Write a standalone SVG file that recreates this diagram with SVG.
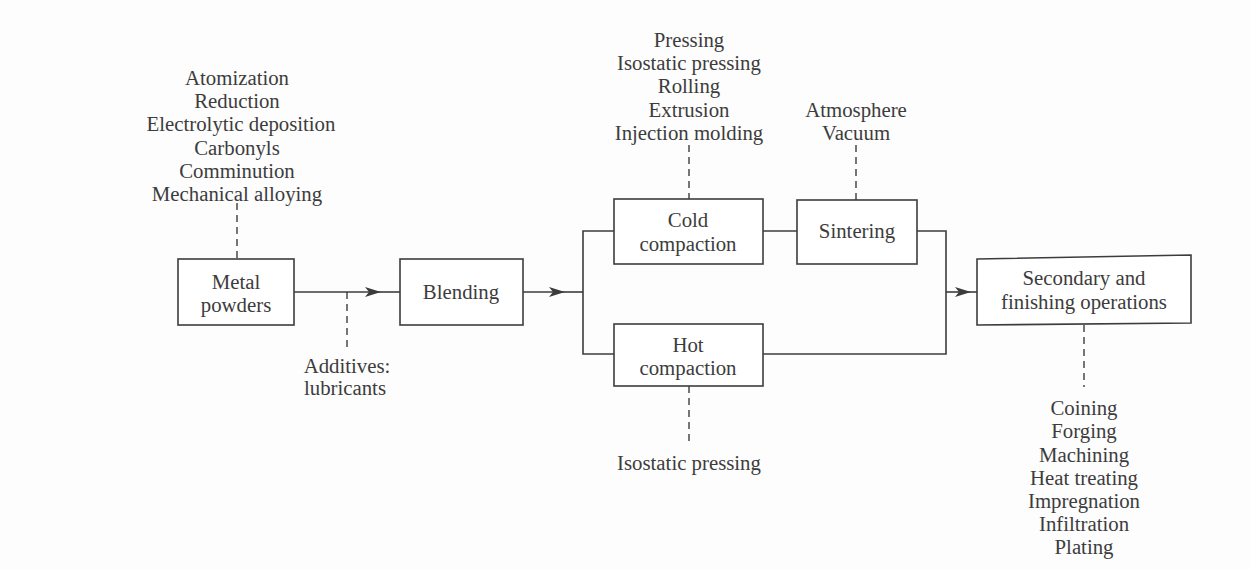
<svg xmlns="http://www.w3.org/2000/svg" width="1250" height="569" viewBox="0 0 1250 569">
<defs>
<style>
text{font-family:"Liberation Serif","Times New Roman",serif;font-size:20.8px;fill:#3c3c3c;text-anchor:middle}
.box{fill:#fff;stroke:#3c3c3c;stroke-width:1.6}
.ln{fill:none;stroke:#3c3c3c;stroke-width:1.6}
.dash{fill:none;stroke:#3c3c3c;stroke-width:1.4;stroke-dasharray:7,5}
</style>
<marker id="arr" viewBox="0 0 16 10" refX="8" refY="5" markerWidth="16" markerHeight="10" markerUnits="userSpaceOnUse" orient="auto">
<path d="M0,0 L16,5 L0,10 L4,5 Z" fill="#3c3c3c"/>
</marker>
</defs>
<rect width="1250" height="569" fill="#fdfdfd"/>
<g id="connectors">
<path class="ln" d="M294,292 H373" marker-end="url(#arr)"/>
<path class="ln" d="M370,292 H400"/>
<path class="ln" d="M523,292 H557" marker-end="url(#arr)"/>
<path class="ln" d="M554,292 H583"/>
<path class="ln" d="M614,231 H583 V354 H614"/>
<path class="ln" d="M763,231 H797"/>
<path class="ln" d="M917,231 H946 V354 H763"/>
<path class="ln" d="M946,292 H963" marker-end="url(#arr)"/>
<path class="ln" d="M960,292 H977"/>
<path class="dash" d="M237,203 V259"/>
<path class="dash" d="M347,292 V347"/>
<path class="dash" d="M689,145 V199"/>
<path class="dash" d="M856,145 V200"/>
<path class="dash" d="M689,386 V442"/>
<path class="dash" d="M1084,325 V387"/>
</g>
<g id="powder-methods">
<text x="237" y="85">Atomization</text>
<text x="237" y="108">Reduction</text>
<text x="241" y="131">Electrolytic deposition</text>
<text x="237" y="155">Carbonyls</text>
<text x="237" y="178">Comminution</text>
<text x="237" y="201">Mechanical alloying</text>
</g>
<g id="metal-powders">
<rect class="box" x="178" y="259" width="116" height="66"/>
<text x="236" y="289">Metal</text>
<text x="236" y="312">powders</text>
</g>
<g id="additives">
<text x="347" y="373">Additives:</text>
<text x="345" y="395">lubricants</text>
</g>
<g id="blending">
<rect class="box" x="400" y="259" width="123" height="66"/>
<text x="461" y="299">Blending</text>
</g>
<g id="cold-methods">
<text x="689" y="47">Pressing</text>
<text x="689" y="70">Isostatic pressing</text>
<text x="689" y="93">Rolling</text>
<text x="689" y="117">Extrusion</text>
<text x="689" y="140">Injection molding</text>
</g>
<g id="cold-compaction">
<rect class="box" x="614" y="199" width="149" height="65"/>
<text x="688" y="227">Cold</text>
<text x="688" y="251">compaction</text>
</g>
<g id="sintering-conditions">
<text x="856" y="117">Atmosphere</text>
<text x="856" y="140">Vacuum</text>
</g>
<g id="sintering">
<rect class="box" x="797" y="200" width="120" height="64"/>
<text x="857" y="238">Sintering</text>
</g>
<g id="hot-compaction">
<rect class="box" x="614" y="324" width="149" height="62"/>
<text x="688" y="352">Hot</text>
<text x="688" y="375">compaction</text>
</g>
<g id="hot-methods">
<text x="689" y="470">Isostatic pressing</text>
</g>
<g id="secondary">
<polygon class="box" points="977,259 1191,255 1191,323 977,325"/>
<text x="1084" y="285">Secondary and</text>
<text x="1084" y="309">finishing operations</text>
</g>
<g id="secondary-methods">
<text x="1084" y="415">Coining</text>
<text x="1084" y="438">Forging</text>
<text x="1084" y="462">Machining</text>
<text x="1084" y="485">Heat treating</text>
<text x="1084" y="508">Impregnation</text>
<text x="1084" y="531">Infiltration</text>
<text x="1084" y="554">Plating</text>
</g>
</svg>
